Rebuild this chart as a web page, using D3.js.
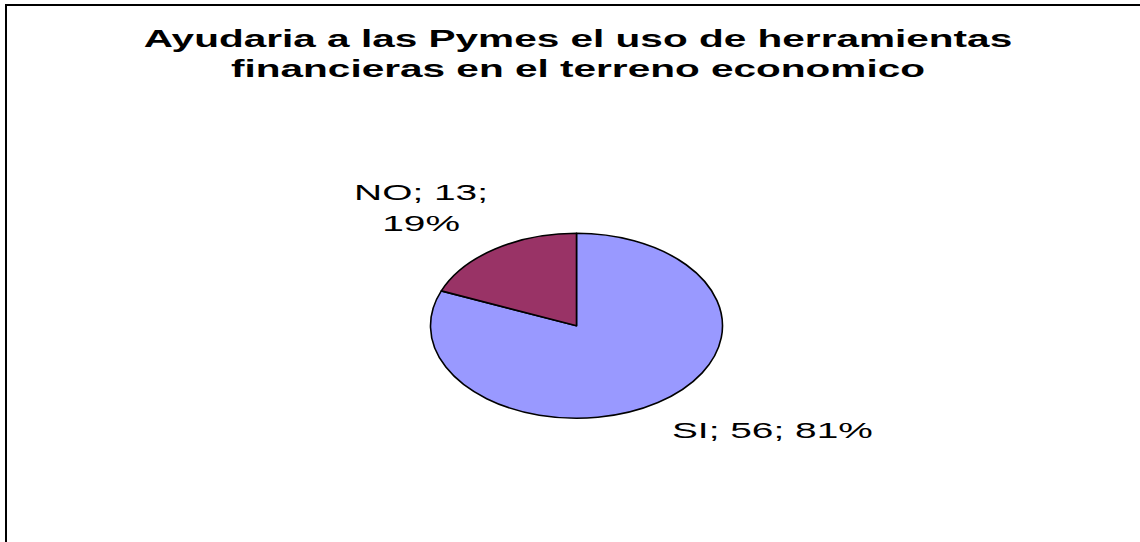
<!DOCTYPE html>
<html>
<head>
<meta charset="utf-8">
<script src="https://cdn.jsdelivr.net/npm/d3@7"></script>
<style>
  html, body { margin: 0; padding: 0; background: #fff; overflow: hidden; }
</style>
</head>
<body>
<div id="visualization"></div>
<script>
// chart values
var categories = ["SI", "NO"];
var counts = [56, 13];
var percents = ["81%", "19%"];
var colors = ["#9999FF", "#993366"];
var titleLines = ["Ayudaria a las Pymes el uso de herramientas", "financieras en el terreno economico"];

var width = 1140;
var height = 542;
var sx = 1.69; // the original picture is stretched sideways

var cx = 576.5, cy = 325.8;
var rx = 146, ry = 92.5;

var svg = d3.select("#visualization").append("svg")
    .attr("width", width)
    .attr("height", height);

// frame (only top and left edges visible)
svg.append("rect")
    .attr("x", 6).attr("y", 5)
    .attr("width", 1300).attr("height", 700)
    .attr("fill", "#fff")
    .attr("stroke", "#000")
    .attr("stroke-width", 2);

// title
svg.append("g").selectAll("text")
    .data(titleLines)
    .join("text")
    .attr("transform", (d, i) => `translate(${578},${47 + i * 30}) scale(${sx},1)`)
    .attr("text-anchor", "middle")
    .style("font-family", "'Liberation Sans', Arial, sans-serif")
    .style("font-weight", "bold")
    .style("font-size", "24px")
    .attr("fill", "#000")
    .text(d => d);

var data = categories.map((c, i) => ({name: c, value: counts[i], pct: percents[i], color: colors[i]}));

var pie = d3.pie().sort(null).value(d => d.value);
var arcs = pie(data);
var arc = d3.arc().innerRadius(0).outerRadius(rx);

var pieG = svg.append("g")
    .attr("transform", `translate(${cx},${cy}) scale(1,${ry / rx})`);

pieG.selectAll("path")
    .data(arcs)
    .join("path")
    .attr("d", arc)
    .attr("fill", d => d.data.color)
    .attr("stroke", "#000")
    .attr("stroke-width", 1.6)
    .attr("vector-effect", "non-scaling-stroke")
    .attr("stroke-linejoin", "round");

// data labels, placed off the ellipse edge at each slice's mid angle
function edgePoint(d) {
    var a = (d.startAngle + d.endAngle) / 2;
    return [cx + Math.sin(a) * rx, cy - Math.cos(a) * ry];
}

var labelG = svg.append("g");
arcs.forEach(function(d) {
    var p = edgePoint(d);
    var left = p[0] < cx;
    var lines, x, y, anchor;
    if (left) {
        lines = [d.data.name + "; " + d.data.value + ";", d.data.pct];
        x = p[0] - 74; y = p[1] - 49; anchor = "middle";
    } else {
        lines = [d.data.name + "; " + d.data.value + "; " + d.data.pct];
        x = p[0] + 14; y = p[1] + 35; anchor = "start";
    }
    lines.forEach(function(t, i) {
        labelG.append("text")
            .attr("transform", `translate(${x},${y + i * 31}) scale(${sx},1)`)
            .attr("text-anchor", anchor)
            .style("font-family", "'Liberation Sans', Arial, sans-serif")
            .style("font-size", "23px")
            .attr("fill", "#000")
            .text(t);
    });
});
</script>
</body>
</html>
